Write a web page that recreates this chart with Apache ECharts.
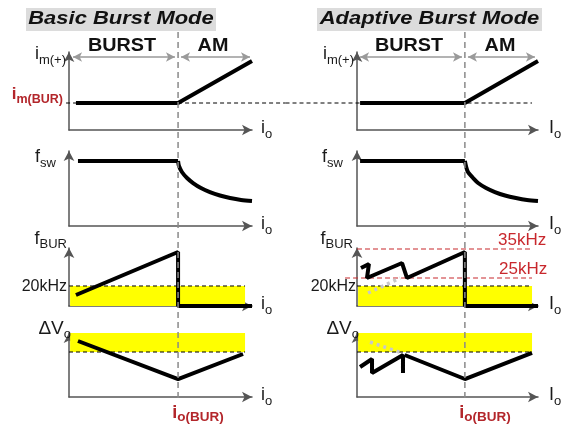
<!DOCTYPE html>
<html><head><meta charset="utf-8">
<script src="https://cdn.jsdelivr.net/npm/echarts@6/dist/echarts.min.js"></script>
<style>html,body{margin:0;padding:0;background:#fff}#c{width:569px;height:427px}</style>
</head><body><div id="c"></div>
<script>
// ---------- values (x: load units 0..100, y: signal units 0..100 per panel) ----------
const IO_BUR = 59.6;          // i_o(BUR) boundary between BURST and AM
const IM_BUR = 34.6;          // i_m(BUR) level (panel 1)
const F20K = 34.5;            // 20 kHz level (panel 3)
const F25K = 48.3;            // 25 kHz level (panel 3, adaptive)
const F35K = 98.3;            // 35 kHz level (panel 3, adaptive)
const DV_LIMIT = 70.3;        // allowed ripple limit (panel 4)
const DV_TOP = 100;

// Basic burst mode
const basicIm = [[3.8,34.6],[59.6,34.6],[100,88.5]];
const basicFswFlat = [[4.9,86.7],[59.6,86.7]];
const basicFswCurve = [[59.6,86.7],[60.1,80],[61.7,72],[64.5,64],[67.8,57.3],[72.1,50.7],[77,45.3],[82.5,40.7],[88,37.3],[94,34.7],[100,33.3]];
const basicFbur = [[3.8,19],[59.6,93.1],[59.6,0],[100,0]];
const basicDv = [[4.9,87.5],[59.6,28.1],[95.1,67.2]];
const basicBandEnd = 96.2;
const basicImBurSpan = [-1.6, 118.3];
const basicBurstArrow = [2.2, 57.9];
const basicAmArrow = [61.2, 98.9];

// Adaptive burst mode
const adaptIm = [[1.7,34.6],[59.6,34.6],[100,88.5]];
const adaptFswFlat = [[1.7,86.7],[59.6,86.7]];
const adaptFswCurve = [[59.6,86.7],[60.2,80],[61.3,72],[64.1,64],[66.9,57.3],[71.3,50.7],[76.2,45.3],[81.8,40.7],[87.8,37.3],[93.9,34.7],[100,33.3]];
const adaptFbur = [[2.2,65.5],[6.6,72.4],[5.5,48.3],[24.9,74.1],[27.6,48.3],[59.6,93.1],[59.6,0],[100,0]];
const adaptFburNoAdapt = [[6.1,22.4],[23.8,48.3]];
const adaptDvSteps = [[1.7,46.9],[8.3,59.4],[8.3,37.5],[25.4,65.6],[25.4,37.5]];
const adaptDvMain = [[26.3,65.6],[59.6,28.1],[96.7,68.8]];
const adaptDvNoAdapt = [[7.2,85.9],[24.9,68.8]];
const adaptBandEnd = 96.7;
const adaptImBurSpan = [-39.5, 96.7];
const adapt25kSpan = [-6.6, 96.7];
const adapt35kSpan = [0, 95.6];
const adaptBurstArrow = [1.7, 58];
const adaptAmArrow = [61.3, 98.3];
const ARROW_Y = 93.6;

// ---------- layout ----------
const W = 569;
const FONT = '"Liberation Sans", Arial, sans-serif';
const COLS = [{left:69, width:183}, {left:357, width:181}];
const ROWS = [{top:52,height:78},{top:151,height:75},{top:248,height:58},{top:333,height:64}];
const AXIS_COLOR = '#555';
const RED = '#b3262b';
const RED2 = '#c8282d';

const grid = [], xAxis = [], yAxis = [];
COLS.forEach(c => ROWS.forEach(r => {
  grid.push({left:c.left, width:c.width, top:r.top, height:r.height, outerBoundsMode:'none'});
}));
grid.forEach((g,i) => {
  const al = {show:true, onZero:false, symbol:['none','arrow'], symbolSize:[8,10], lineStyle:{color:AXIS_COLOR, width:1.5}};
  xAxis.push({gridIndex:i, type:'value', min:0, max:100, axisLine:al, axisTick:{show:false}, axisLabel:{show:false}, splitLine:{show:false}});
  yAxis.push({gridIndex:i, type:'value', min:0, max:100, axisLine:al, axisTick:{show:false}, axisLabel:{show:false}, splitLine:{show:false}});
});
function hiddenGrid(g, xmin, xmax) {
  grid.push(Object.assign({outerBoundsMode:'none'}, g));
  const i = grid.length - 1;
  xAxis.push({gridIndex:i, type:'value', min:xmin, max:xmax, show:false});
  yAxis.push({gridIndex:i, type:'value', min:0, max:100, show:false});
  return i;
}
// full-height overlay per column (i_o(BUR) separator)
const sepGrid = COLS.map(c => hiddenGrid({left:c.left, width:c.width, top:32, height:366}, 0, 100));
// full-width overlay for a panel row, same load units as the column
function wideGrid(ci, ri) {
  const c = COLS[ci], r = ROWS[ri], k = c.width / 100;
  return hiddenGrid({left:0, width:W, top:r.top, height:r.height}, -c.left / k, (W - c.left) / k);
}
const wideBasicP1 = wideGrid(0, 0);
const wideAdaptP1 = wideGrid(1, 0);
const wideAdaptP3 = wideGrid(1, 2);

const THICK = {color:'#000', width:4};
const DASH = {color:'#000', width:1, type:[4,3]};
const RED_DASH = {color:RED2, width:1.2, type:[5,3]};
const DOTS = {color:'#c8c8c8', width:3.5, type:[3,4]};

function line(gi, data, style, extra) {
  return Object.assign({type:'line', xAxisIndex:gi, yAxisIndex:gi, data, symbol:'none', showSymbol:false,
    clip:false, silent:true, animation:false, lineStyle:style, z:3}, extra || {});
}
function bandOpt(x1, y0, y1) {
  return {silent:true, itemStyle:{color:'#ffff00', opacity:1}, data:[[{coord:[0.6,y0]},{coord:[x1,y1]}]]};
}
function arrowsOpt(a, b) {
  return {silent:true, symbol:['arrow','arrow'], symbolSize:[7,9], label:{show:false},
    lineStyle:{color:'#9a9a9a', width:1.5, type:'solid'},
    data:[[{coord:[a[0],ARROW_Y]},{coord:[a[1],ARROW_Y]}],[{coord:[b[0],ARROW_Y]},{coord:[b[1],ARROW_Y]}]]};
}

const series = [
  // ---- basic (grids 0..3)
  line(wideBasicP1, [[basicImBurSpan[0],IM_BUR],[basicImBurSpan[1],IM_BUR]], DASH, {z:2}),
  line(0, basicIm, THICK, {markLine: arrowsOpt(basicBurstArrow, basicAmArrow)}),
  line(1, basicFswFlat, THICK),
  line(1, basicFswCurve, THICK, {smooth:0.3}),
  line(2, [[0,F20K],[basicBandEnd,F20K]], DASH, {z:2, markArea: bandOpt(basicBandEnd, 0, F20K)}),
  line(2, basicFbur, THICK),
  line(3, [[0,DV_LIMIT],[basicBandEnd,DV_LIMIT]], DASH, {z:2, markArea: bandOpt(basicBandEnd, DV_LIMIT, DV_TOP)}),
  line(3, basicDv, THICK),
  // ---- adaptive (grids 4..7)
  line(wideAdaptP1, [[adaptImBurSpan[0],IM_BUR],[adaptImBurSpan[1],IM_BUR]], DASH, {z:2}),
  line(4, adaptIm, THICK, {markLine: arrowsOpt(adaptBurstArrow, adaptAmArrow)}),
  line(5, adaptFswFlat, THICK),
  line(5, adaptFswCurve, THICK, {smooth:0.3}),
  line(6, [[0,F20K],[adaptBandEnd,F20K]], DASH, {z:2, markArea: bandOpt(adaptBandEnd, 0, F20K)}),
  line(wideAdaptP3, [[adapt25kSpan[0],F25K],[adapt25kSpan[1],F25K]], RED_DASH, {z:2}),
  line(6, [[adapt35kSpan[0],F35K],[adapt35kSpan[1],F35K]], RED_DASH, {z:2}),
  line(6, adaptFburNoAdapt, DOTS, {z:2}),
  line(6, adaptFbur, THICK),
  line(7, [[0,DV_LIMIT],[adaptBandEnd,DV_LIMIT]], DASH, {z:2, markArea: bandOpt(adaptBandEnd, DV_LIMIT, DV_TOP)}),
  line(7, adaptDvNoAdapt, DOTS, {z:2}),
  line(7, adaptDvSteps, THICK),
  line(7, adaptDvMain, THICK),
  // ---- separators
  line(sepGrid[0], [[IO_BUR,0],[IO_BUR,100]], {color:'#8a8a8a', width:1.5, type:[6,4]}, {z:6}),
  line(sepGrid[1], [[IO_BUR,0],[IO_BUR,100]], {color:'#8a8a8a', width:1.5, type:[6,4]}, {z:6}),
];

// ---------- text ----------
const ctx = document.createElement('canvas').getContext('2d');
function tw(text, size, weight, style) {
  ctx.font = `${style||'normal'} ${weight||'normal'} ${size}px "Liberation Sans", Arial, sans-serif`;
  return ctx.measureText(text).width;
}
function textEl(x, y, text, o) {
  return {type:'text', x, y, scaleX:o.sx || 1, silent:true, z:10,
    style:{text, fill:o.color || '#1a1a1a', fontSize:o.size, fontWeight:o.weight || 'normal',
      fontStyle:o.style || 'normal', fontFamily:FONT,
      align:o.align || 'left', textAlign:o.align || 'left', verticalAlign:'middle', textVerticalAlign:'middle'}};
}
function subLabel(x, y, main, sub, o) {
  o = Object.assign({size:16, subSize:12, weight:'normal', color:'#1a1a1a', align:'left', dy:5}, o);
  const w1 = tw(main, o.size, o.weight), w2 = tw(sub, o.subSize, o.weight);
  const total = w1 + w2;
  const x0 = o.align === 'right' ? x - total : o.align === 'center' ? x - total/2 : x;
  return [
    textEl(x0, y, main, {size:o.size, weight:o.weight, color:o.color}),
    textEl(x0 + w1, y + o.dy, sub, {size:o.subSize, weight:o.weight, color:o.color})
  ];
}

const els = [];
els.push({type:'rect', shape:{x:26,y:8,width:190,height:23}, style:{fill:'#dcdcdc'}, silent:true, z:1});
els.push({type:'rect', shape:{x:317,y:8,width:225,height:23}, style:{fill:'#dcdcdc'}, silent:true, z:1});
els.push(textEl(121, 19.5, 'Basic Burst Mode', {size:18, weight:'bold', style:'italic', align:'center', sx:1.22, color:'#111'}));
els.push(textEl(429.5, 19.5, 'Adaptive Burst Mode', {size:18, weight:'bold', style:'italic', align:'center', sx:1.22, color:'#111'}));
[[122,'BURST'],[213,'AM'],[409,'BURST'],[500,'AM']].forEach(([x,t]) =>
  els.push(textEl(x, 46.5, t, {size:18, weight:'bold', align:'center', sx:1.1, color:'#111'})));

// left column labels
els.push(...subLabel(66, 54.5, 'i', 'm(+)', {size:18, subSize:13, align:'right', dy:6}));
els.push(...subLabel(63, 94, 'i', 'm(BUR)', {size:17, subSize:12.5, weight:'bold', color:RED, align:'right', dy:6}));
els.push(...subLabel(56, 157, 'f', 'sw', {size:18, subSize:13, align:'right', dy:6}));
els.push(...subLabel(67, 239, 'f', 'BUR', {size:18, subSize:13, align:'right', dy:5}));
els.push(textEl(67, 287, '20kHz', {size:16, align:'right'}));
els.push(...subLabel(71, 328.5, 'ΔV', 'o', {size:19, subSize:13, align:'right', dy:6}));
els.push(...subLabel(198, 413.5, 'i', 'o(BUR)', {size:18, subSize:13.5, weight:'bold', color:RED, align:'center', dy:4}));
// right column labels
els.push(...subLabel(354, 54.5, 'i', 'm(+)', {size:18, subSize:13, align:'right', dy:6}));
els.push(...subLabel(343, 157, 'f', 'sw', {size:18, subSize:13, align:'right', dy:6}));
els.push(...subLabel(353, 239, 'f', 'BUR', {size:18, subSize:13, align:'right', dy:5}));
els.push(textEl(356, 287, '20kHz', {size:16, align:'right'}));
els.push(...subLabel(359, 328.5, 'ΔV', 'o', {size:19, subSize:13, align:'right', dy:6}));
els.push(...subLabel(485, 413.5, 'i', 'o(BUR)', {size:18, subSize:13.5, weight:'bold', color:RED, align:'center', dy:4}));
els.push(textEl(498, 240, '35kHz', {size:17, color:RED2}));
els.push(textEl(499, 269, '25kHz', {size:17, color:RED2}));
// axis names
ROWS.forEach(r => {
  const yAx = r.top + r.height;
  els.push(...subLabel(261, yAx - 2, 'i', 'o', {size:18, subSize:13, dy:6}));
  els.push(...subLabel(549, yAx - 2, 'I', 'o', {size:18, subSize:13, dy:6}));
});

const chart = echarts.init(document.getElementById('c'), null, {renderer:'canvas'});
chart.setOption({animation:false, backgroundColor:'#fff', grid, xAxis, yAxis, series, graphic:{elements:els}});
</script></body></html>
